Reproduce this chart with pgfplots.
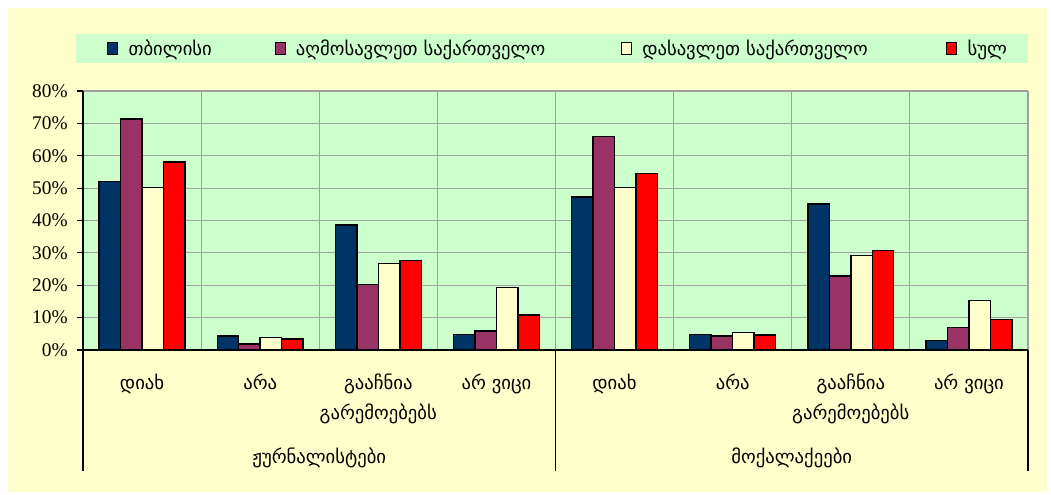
\documentclass[border=0pt]{standalone}
\usepackage{fontspec}
\setmainfont{Liberation Serif}
\newfontfamily\geo{DejaVu Sans}
\usepackage{pgfplots}
\pgfplotsset{compat=1.18}
\definecolor{bgy}{HTML}{FFFFCC}
\definecolor{bgg}{HTML}{CCFFCC}
\definecolor{cnavy}{HTML}{003366}
\definecolor{cpurp}{HTML}{993366}
\definecolor{ccream}{HTML}{FFFFCC}
\definecolor{cred}{HTML}{FF0000}
\definecolor{gridc}{HTML}{A0A0A0}
\pgfplotsset{mylegend/.style={legend image code/.code={\draw[##1,draw=black,line width=0.9pt] (0pt,-4.5pt) rectangle (7.5pt,4.5pt); \path (15pt,0pt);}}}
\begin{document}
\begin{tikzpicture}
\begin{scope}[x=0.75pt,y=0.75pt]
\path[use as bounding box, fill=white] (-83,-144) rectangle (968,350);
\fill[bgy] (-75,-142) rectangle (964,342);
\fill[bgg] (-7,287) rectangle (945,316);
\end{scope}
\begin{axis}[
 at={(0pt,0pt)}, anchor=south west,
 scale only axis, width=708.75pt, height=194.25pt,
 xmin=-0.5, xmax=7.5, ymin=0, ymax=80,
 axis background/.style={fill=bgg},
 axis x line*=bottom, axis y line*=left,
 axis line style={black, line width=0.8pt},
 ybar=0pt, bar width=16.1pt,
 xtick={0,...,7},
 xticklabels={დიახ, არა, {გააჩნია\\გარემოებებს}, {არ ვიცი}, დიახ, არა, {გააჩნია\\გარემოებებს}, {არ ვიცი}},
 xtick style={draw=none},
 minor xtick={0.5,1.5,...,7.5},
 xminorgrids, ymajorgrids,
 major grid style={gridc, line width=0.8pt},
 minor grid style={gridc, line width=0.8pt},
 x tick label style={font=\geo\fontsize{14}{22.5}\selectfont, align=center, anchor=north, yshift=-10pt},
 ytick={0,10,...,80},
 yticklabel={\pgfmathprintnumber{\tick}\%},
 y tick label style={font=\fontsize{14.5}{16}\selectfont, xshift=-3.5pt},
 /pgf/number format/assume math mode=true,
 ytick style={black, line width=0.8pt},
 tick align=outside, major tick length=4.5pt,
 legend columns=4,
 legend style={at={(0.0254,1.164)}, anchor=west, draw=none, fill=none, inner sep=0pt,
   nodes={inner sep=0pt}, font=\geo\fontsize{14}{16}\selectfont,
   /tikz/every even column/.style={column sep=0pt}},
 clip=false,
]
\addplot[fill=cnavy, draw=black, line width=1.1pt, mylegend] coordinates {(0,52.1) (1,4.3) (2,38.6) (3,4.8) (4,47.2) (5,4.8) (6,45.1) (7,3.0)};
\addlegendentry{\makebox[109.5pt][l]{თბილისი}}
\addplot[fill=cpurp, draw=black, line width=1.1pt, mylegend] coordinates {(0,71.4) (1,1.9) (2,20.2) (3,5.9) (4,65.9) (5,4.3) (6,22.8) (7,6.9)};
\addlegendentry{\makebox[243.75pt][l]{აღმოსავლეთ საქართველო}}
\addplot[fill=ccream, draw=black, line width=1.1pt, mylegend] coordinates {(0,50.2) (1,3.8) (2,26.8) (3,19.3) (4,50.2) (5,5.4) (6,29.2) (7,15.3)};
\addlegendentry{\makebox[228pt][l]{დასავლეთ საქართველო}}
\addplot[fill=cred, draw=black, line width=1.1pt, mylegend] coordinates {(0,58.1) (1,3.4) (2,27.7) (3,10.8) (4,54.5) (5,4.7) (6,30.7) (7,9.4)};
\addlegendentry{სულ}
\draw[black, line width=0.8pt] (axis cs:-0.5,0) -- ++(0pt,-90.75pt);
\draw[black, line width=0.8pt] (axis cs:3.5,0) -- ++(0pt,-90.75pt);
\draw[black, line width=0.8pt] (axis cs:7.5,0) -- ++(0pt,-90.75pt);
\node[font=\geo\fontsize{14}{16}\selectfont] at (axis cs:1.5,0) [yshift=-81pt] {ჟურნალისტები};
\node[font=\geo\fontsize{14}{16}\selectfont] at (axis cs:5.5,0) [yshift=-81pt] {მოქალაქეები};
\end{axis}
\end{tikzpicture}
\end{document}
